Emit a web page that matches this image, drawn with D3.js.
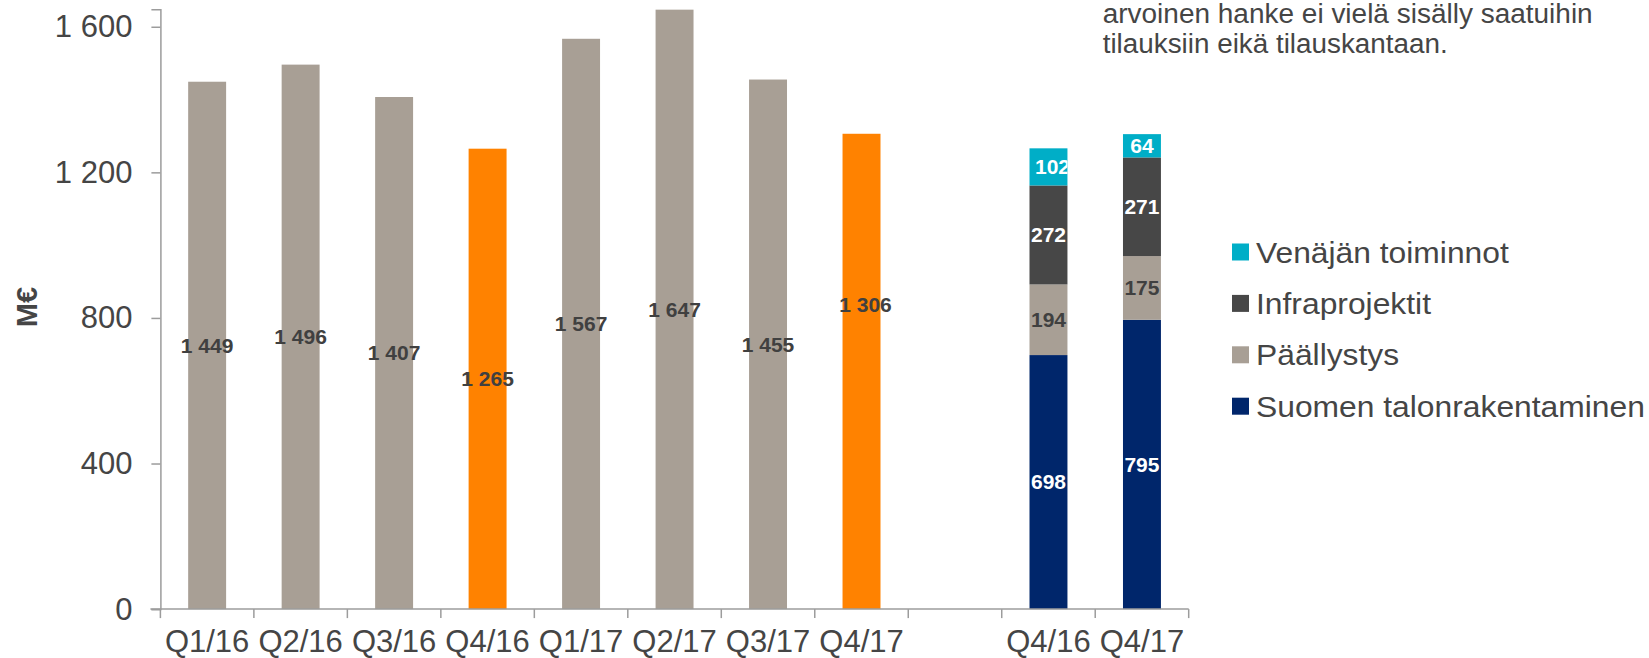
<!DOCTYPE html>
<html>
<head>
<meta charset="utf-8">
<script src="https://cdn.jsdelivr.net/npm/d3@7"></script>
<style>
  html, body { margin: 0; padding: 0; background: #fff; }
  svg { display: block; font-family: "Liberation Sans", Arial, sans-serif; }
</style>
</head>
<body>
<svg id="chart" width="1649" height="658"></svg>
<script>
// Quarterly order backlog, M€
const categories = ["Q1/16", "Q2/16", "Q3/16", "Q4/16", "Q1/17", "Q2/17", "Q3/17", "Q4/17"];
const totals = [1449, 1496, 1407, 1265, 1567, 1647, 1455, 1306];
const highlighted = ["Q4/16", "Q4/17"];

// Segment breakdown for the year-end quarters
const stackCategories = ["Q4/16", "Q4/17"];
const segmentNames = ["Suomen talonrakentaminen", "Päällystys", "Infraprojektit", "Venäjän toiminnot"];
const suomenTalonrakentaminen = [698, 795];
const paallystys = [194, 175];
const infraprojektit = [272, 271];
const venajanToiminnot = [102, 64];

const yTicks = [0, 400, 800, 1200, 1600];
const yMax = 1648;
const noteLines = ["arvoinen hanke ei vielä sisälly saatuihin", "tilauksiin eikä tilauskantaan."];

const colors = {
  bar: "#a89f95",
  highlight: "#ff8200",
  segments: ["#00266b", "#a89f95", "#474747", "#00aec7"],
  segmentText: ["#ffffff", "#404040", "#ffffff", "#ffffff"],
  axis: "#9c9c9c",
  text: "#454545"
};

const svg = d3.select("#chart");
const fi = d3.formatLocale({ decimal: ",", thousands: " ", grouping: [3], currency: ["", "€"] });
const fmt = fi.format(",d");

// One band per quarter, an empty band, then the two stacked bars
const slotKeys = categories.map((c, i) => "q" + i)
  .concat(["gap"])
  .concat(stackCategories.map((c, i) => "s" + i));
const slotLabels = categories.concat([""]).concat(stackCategories);

const plotLeft = 160.4, plotRight = 1188.7, plotBottom = 609.1, plotTop = 9.3;
const pad = 0.594;
const x = d3.scaleBand().domain(slotKeys).range([plotLeft, plotRight])
  .paddingInner(pad).paddingOuter(pad / 2);
const y = d3.scaleLinear().domain([0, yMax]).range([plotBottom, plotTop]);

const g = svg.append("g");

// Single-value bars
const bars = categories.map((c, i) => ({ key: slotKeys[i], cat: c, value: totals[i] }));
g.selectAll("rect.total").data(bars).join("rect")
  .attr("class", "total")
  .attr("x", d => x(d.key))
  .attr("width", x.bandwidth())
  .attr("y", d => y(d.value))
  .attr("height", d => y(0) - y(d.value))
  .attr("fill", d => highlighted.includes(d.cat) ? colors.highlight : colors.bar);

// Labels sit at mid-height; the last one was nudged up by hand
const labelNudge = { "Q4/17": { dx: 4, dy: -(y(1306 / 2) - 304.3) } };
g.selectAll("text.total").data(bars).join("text")
  .attr("class", "total")
  .attr("x", d => x(d.key) + x.bandwidth() / 2 + (labelNudge[d.cat] ? labelNudge[d.cat].dx : 0))
  .attr("y", d => y(d.value / 2) + (labelNudge[d.cat] ? labelNudge[d.cat].dy : 0))
  .attr("dy", "0.35em")
  .attr("text-anchor", "middle")
  .attr("font-size", 21)
  .attr("font-weight", "bold")
  .attr("fill", "#404040")
  .text(d => fmt(d.value));

// Stacked segment bars
const stackRows = stackCategories.map((c, i) => ({
  key: "s" + i,
  cat: c,
  s0: suomenTalonrakentaminen[i],
  s1: paallystys[i],
  s2: infraprojektit[i],
  s3: venajanToiminnot[i]
}));
const stack = d3.stack().keys(["s0", "s1", "s2", "s3"]);
const layers = stack(stackRows);

// Labels inside the stacked bars are clipped to the bar width
const defs = svg.append("defs");
stackRows.forEach(r => {
  defs.append("clipPath").attr("id", "clip-" + r.key)
    .append("rect")
    .attr("x", x(r.key)).attr("width", x.bandwidth())
    .attr("y", 0).attr("height", 658);
});

layers.forEach((layer, li) => {
  const lg = g.append("g");
  lg.selectAll("rect").data(layer).join("rect")
    .attr("x", d => x(d.data.key))
    .attr("width", x.bandwidth())
    .attr("y", d => y(d[1]))
    .attr("height", d => y(d[0]) - y(d[1]))
    .attr("fill", colors.segments[li]);
  lg.selectAll("text").data(layer).join("text")
    .attr("clip-path", d => `url(#clip-${d.data.key})`)
    .attr("x", d => x(d.data.key) + x.bandwidth() / 2 + (li === 3 && d[1] - d[0] >= 100 ? 4 : 0))
    .attr("y", d => y((d[0] + d[1]) / 2))
    .attr("dy", "0.35em")
    .attr("text-anchor", "middle")
    .attr("font-size", 21)
    .attr("font-weight", "bold")
    .attr("fill", colors.segmentText[li])
    .text(d => fmt(d[1] - d[0]));
});

// Y axis
const yAxis = d3.axisLeft(y).tickValues(yTicks).tickFormat(fmt).tickSize(9).tickPadding(19);
const ya = svg.append("g").attr("transform", `translate(${plotLeft},0)`).call(yAxis);
ya.select(".domain").attr("stroke", colors.axis).attr("stroke-width", 1.5);
ya.selectAll(".tick line").attr("stroke", colors.axis).attr("stroke-width", 1.5);
ya.selectAll(".tick text").attr("font-size", 31).attr("fill", colors.text)
  .attr("font-family", "Liberation Sans, Arial, sans-serif");

// X axis: baseline, boundary ticks and centred labels
const step = x.step();
const boundaries = d3.range(slotKeys.length + 1).map(i => plotLeft + i * step);
svg.append("line")
  .attr("x1", plotLeft - 10).attr("x2", plotRight)
  .attr("y1", y(0)).attr("y2", y(0))
  .attr("stroke", colors.axis).attr("stroke-width", 1.5);
svg.selectAll("line.xtick").data(boundaries).join("line")
  .attr("class", "xtick")
  .attr("x1", d => d).attr("x2", d => d)
  .attr("y1", y(0)).attr("y2", y(0) + 9)
  .attr("stroke", colors.axis).attr("stroke-width", 1.5);
svg.selectAll("text.xlabel").data(slotKeys.filter((k, i) => slotLabels[i] !== "")).join("text")
  .attr("class", "xlabel")
  .attr("x", d => x(d) + x.bandwidth() / 2)
  .attr("y", 652)
  .attr("text-anchor", "middle")
  .attr("font-size", 31)
  .attr("fill", colors.text)
  .text(d => slotLabels[slotKeys.indexOf(d)]);

// Y axis title
svg.append("text")
  .attr("transform", "translate(37,307) rotate(-90)")
  .attr("text-anchor", "middle")
  .attr("font-size", 29)
  .attr("font-weight", "bold")
  .attr("fill", colors.text)
  .text("M€");

// Legend (top-down order: Venäjän, Infra, Päällystys, Suomen)
const legendItems = segmentNames.map((n, i) => ({ name: n, color: colors.segments[i] })).reverse();
const lg = svg.append("g").attr("transform", "translate(1232,252)");
const li = lg.selectAll("g").data(legendItems).join("g")
  .attr("transform", (d, i) => `translate(0,${i * 51.4})`);
li.append("rect").attr("x", 0).attr("y", -8.5).attr("width", 17).attr("height", 17)
  .attr("fill", d => d.color);
li.append("text").attr("x", 24).attr("y", 0).attr("dy", "0.35em")
  .attr("font-size", 30).attr("fill", colors.text)
  .text(d => d.name)
  .each(function () {
    const w = this.getComputedTextLength();
    d3.select(this).attr("textLength", w * 1.06).attr("lengthAdjust", "spacingAndGlyphs");
  });

// Note text at upper right
const noteWidths = [490, 345];
svg.selectAll("text.note").data(noteLines).join("text")
  .attr("class", "note")
  .attr("x", 1102.7)
  .attr("y", (d, i) => 23.3 + i * 29.4)
  .attr("font-size", 27)
  .attr("fill", colors.text)
  .attr("textLength", (d, i) => noteWidths[i])
  .attr("lengthAdjust", "spacingAndGlyphs")
  .text(d => d);
</script>
</body>
</html>
